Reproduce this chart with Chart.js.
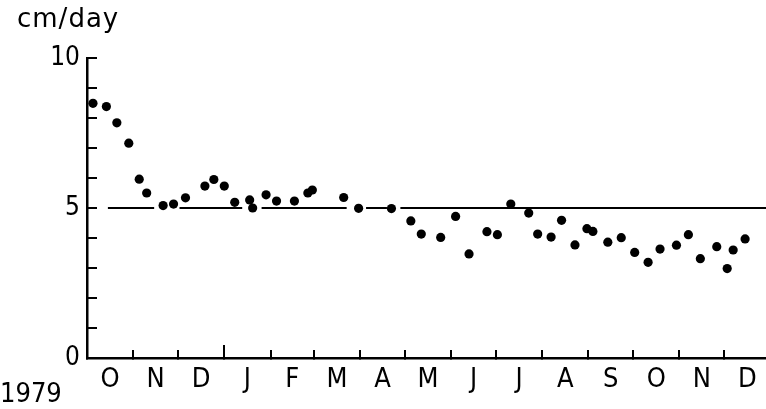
<!DOCTYPE html>
<html>
<head>
<meta charset="utf-8">
<script src="https://cdn.jsdelivr.net/npm/chart.js@4"></script>
<style>
  html, body { margin: 0; padding: 0; background: #fff; }
  canvas { display: block; }
</style>
</head>
<body>
<canvas id="chart" width="766" height="409"></canvas>
<script>
// growth rate measurements, Oct 1979 - Dec 1980
const sampleDates = [
  '1979-10-05','1979-10-14','1979-10-21','1979-10-29','1979-11-05','1979-11-10',
  '1979-11-21','1979-11-28','1979-12-06','1979-12-19','1979-12-25','1980-01-01',
  '1980-01-08','1980-01-18','1980-01-20','1980-01-29','1980-02-05','1980-02-17',
  '1980-02-26','1980-02-29','1980-03-21','1980-03-31','1980-04-22','1980-05-05',
  '1980-05-12','1980-05-25','1980-06-04','1980-06-13','1980-06-25','1980-07-02',
  '1980-07-11','1980-07-23','1980-07-29','1980-08-07','1980-08-14','1980-08-23',
  '1980-08-31','1980-09-04','1980-09-14','1980-09-23','1980-10-02','1980-10-11',
  '1980-10-19','1980-10-30','1980-11-07','1980-11-15','1980-11-26','1980-12-03',
  '1980-12-07','1980-12-15'
];
const growthRates = [
  8.49, 8.38, 7.84, 7.16, 5.96, 5.50,
  5.08, 5.13, 5.34, 5.73, 5.95, 5.73,
  5.19, 5.27, 5.00, 5.44, 5.23, 5.23,
  5.50, 5.60, 5.35, 4.99, 4.98, 4.57,
  4.13, 4.02, 4.72, 3.47, 4.21, 4.11,
  5.13, 4.83, 4.13, 4.03, 4.59, 3.77,
  4.31, 4.22, 3.86, 4.01, 3.52, 3.19,
  3.63, 3.76, 4.11, 3.31, 3.71, 2.98,
  3.60, 3.97
];

// 5 cm/day reference level, drawn broken around the dots
const REF_LEVEL = 5;
const refStarts = ['1979-10-15','1979-12-02','1980-01-26','1980-04-05','1980-04-28'];
const refEnds   = ['1979-11-15','1980-01-13','1980-03-23','1980-04-19','1980-12-31'];

const monthStarts = [
  '1979-10-01','1979-11-01','1979-12-01','1980-01-01','1980-02-01','1980-03-01',
  '1980-04-01','1980-05-01','1980-06-01','1980-07-01','1980-08-01','1980-09-01',
  '1980-10-01','1980-11-01','1980-12-01','1981-01-01'
];
const monthLabels = ['O','N','D','J','F','M','A','M','J','J','A','S','O','N','D'];
const yearStarts = ['1980-01-01'];
const yLabelled = [0, 5, 10];

const UNIT_LABEL = 'cm/day';
const YEAR_LABEL = '1979';

const X_MAX = 455;
const FAMILY = "'DejaVu Sans Condensed', 'Liberation Sans Narrow', 'Liberation Sans', sans-serif";

function dayOf(s) {
  const [y, m, d] = s.split('-').map(Number);
  return (Date.UTC(y, m - 1, d) - Date.UTC(1979, 9, 1)) / 86400000;
}

const points = sampleDates.map((d, i) => ({ x: dayOf(d), y: growthRates[i] }));

const refLine = [];
refStarts.forEach((s, i) => {
  const a = dayOf(s), b = dayOf(refEnds[i]);
  refLine.push({ x: a, y: REF_LEVEL }, { x: b, y: REF_LEVEL });
  if (i < refStarts.length - 1) refLine.push({ x: (b + dayOf(refStarts[i + 1])) / 2, y: null });
});

const boundaries = monthStarts.map(dayOf).filter(v => v <= X_MAX);
const monthEdges = monthStarts.map(dayOf);
const mids = monthLabels.map((_, i) => (monthEdges[i] + monthEdges[i + 1]) / 2);

// keep the plot flush with the right edge
function flatX(height) {
  return s => { s.height = height; s.paddingLeft = 0; s.paddingRight = 0; };
}

// side texts: unit and year
const sideText = {
  id: 'sideText',
  afterDraw(chart) {
    const ctx = chart.ctx;
    ctx.save();
    ctx.fillStyle = '#000';
    ctx.textBaseline = 'alphabetic';
    ctx.textAlign = 'left';
    ctx.font = "26px 'DejaVu Sans'";
    ctx.letterSpacing = '1px';
    ctx.fillText(UNIT_LABEL, 17, 27);
    ctx.letterSpacing = '0px';
    ctx.font = '27px ' + FAMILY;
    ctx.fillText(YEAR_LABEL, 0, 402);
    ctx.restore();
  }
};

new Chart(document.getElementById('chart'), {
  type: 'scatter',
  data: {
    datasets: [
      {
        data: refLine,
        showLine: true,
        borderColor: '#000',
        borderWidth: 2.2,
        pointRadius: 0,
        spanGaps: false,
        order: 2
      },
      {
        data: points,
        backgroundColor: '#000',
        borderWidth: 0,
        pointRadius: 4.6,
        order: 1
      }
    ]
  },
  options: {
    responsive: false,
    animation: false,
    devicePixelRatio: 1,
    layout: { autoPadding: false, padding: { top: 58, left: 0, right: 0, bottom: 0 } },
    plugins: { legend: { display: false }, tooltip: { enabled: false } },
    scales: {
      x: {
        type: 'linear', position: 'bottom', min: 0, max: X_MAX,
        afterBuildTicks: s => { s.ticks = boundaries.map(v => ({ value: v })); },
        afterFit: flatX(0),
        ticks: { display: false },
        grid: { drawOnChartArea: false, tickLength: -8, color: '#000', lineWidth: 2 },
        border: { display: true, color: '#000', width: 2.5 }
      },
      xYear: {
        type: 'linear', position: 'bottom', min: 0, max: X_MAX,
        afterBuildTicks: s => { s.ticks = yearStarts.map(d => ({ value: dayOf(d) })); },
        afterFit: flatX(0),
        ticks: { display: false },
        grid: { drawOnChartArea: false, tickLength: -13, color: '#000', lineWidth: 2 },
        border: { display: false }
      },
      xLabels: {
        type: 'linear', position: 'bottom', min: 0, max: X_MAX,
        afterBuildTicks: s => { s.ticks = mids.map(v => ({ value: v })); },
        afterFit: flatX(51),
        ticks: {
          autoSkip: false, maxRotation: 0, padding: 6, color: '#000',
          font: { family: FAMILY, size: 27 },
          callback: (v, i) => monthLabels[i]
        },
        grid: { display: false, drawTicks: false },
        border: { display: false }
      },
      y: {
        min: 0, max: 10,
        afterFit: s => { s.width = 87; },
        ticks: {
          stepSize: 1, autoSkip: false, padding: 17, color: '#000',
          font: { family: FAMILY, size: 26 },
          callback: v => yLabelled.includes(v) ? String(v) : ''
        },
        grid: { drawOnChartArea: false, tickLength: -10, color: '#000', lineWidth: 2 },
        border: { display: true, color: '#000', width: 2.5 }
      }
    }
  },
  plugins: [sideText]
});
</script>
</body>
</html>
